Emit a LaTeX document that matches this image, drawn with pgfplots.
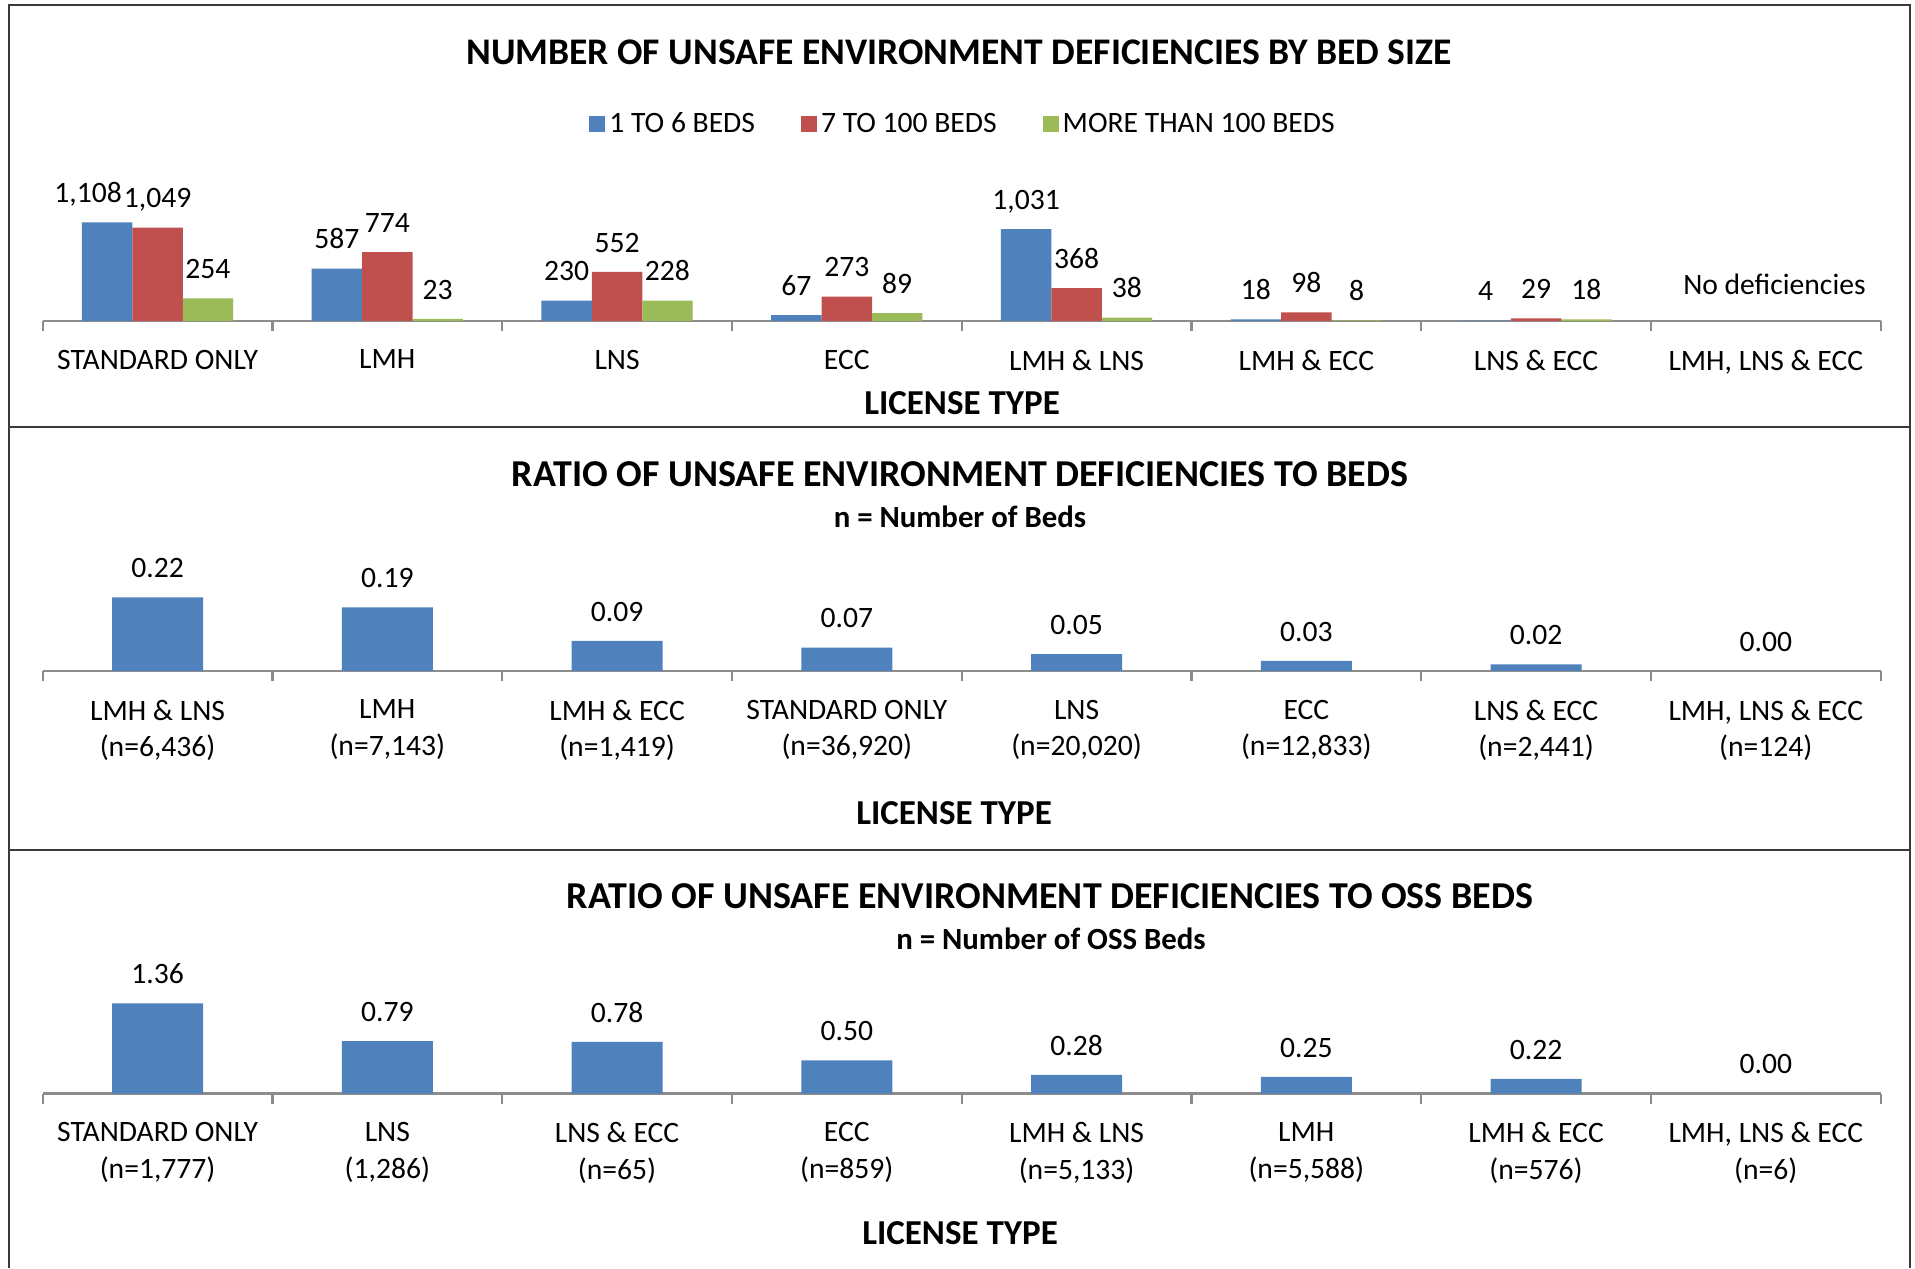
\documentclass[border=0pt]{standalone}
\usepackage{pgfplots}
\usepackage{pgfplotstable}
\pgfplotsset{compat=1.18}
\usepackage{fontspec}
\setmainfont{Carlito}

\definecolor{barblue}{HTML}{4F81BD}
\definecolor{barred}{HTML}{C0504D}
\definecolor{bargreen}{HTML}{9BBB59}
\definecolor{axisgray}{HTML}{8C8C8C}
\definecolor{framegray}{HTML}{3A3A3A}

\newcommand\lbl{\fontsize{14.8}{18.3}\selectfont}
\newcommand\ttl{\fontsize{19}{22}\selectfont\bfseries}
\newcommand\sub{\fontsize{15.4}{17}\selectfont\bfseries}
\newcommand\axt{\fontsize{17.5}{20}\selectfont\bfseries}

% deficiencies by bed size (dx = horizontal nudge of the value label, pt)
\pgfplotstableread{
x blue red green dx
0 1108 1049 254 -9.5
1 587  774  23  0
2 230  552  228 0
3 67   273  89  0
4 1031 368  38  0
5 18   98   8   0
6 4    29   18  0
}\bedtable

% ratio to beds
\pgfplotstableread{
x r
0 0.22
1 0.19
2 0.09
3 0.07
4 0.05
5 0.03
6 0.02
7 0.00
}\bedratio

% ratio to OSS beds
\pgfplotstableread{
x r
0 1.36
1 0.79
2 0.78
3 0.50
4 0.28
5 0.25
6 0.22
7 0.00
}\ossratio

\pgfplotsset{
  sqlegend/.style={legend image code/.code={\fill[##1] (0pt,-4pt) rectangle (8pt,4pt);}},
  panel/.style={
    scale only axis, width=919pt, clip=false,
    axis x line*=bottom, axis y line=none,
    xmin=-0.5, xmax=7.5, ymin=0,
    xtick={0,...,7}, major tick length=0pt,
    minor xtick={-0.5,0.5,...,7.5}, minor tick length=5pt, tick align=outside,
    tick style={draw=axisgray, line width=1.2pt},
    axis line style={draw=axisgray, line width=1.2pt},
    xticklabel style={anchor=north, inner sep=0pt, yshift=-14.3pt, align=center, font=\lbl},
    every node near coord/.append style={font=\lbl, anchor=base, inner sep=0pt, yshift=9.9pt},
    /pgf/number format/assume math mode=true,
  },
}

\begin{document}
\begin{tikzpicture}
\path[use as bounding box, fill=white] (0pt,0pt) rectangle (957.5pt,634pt);

% frame and panel separators
\draw[framegray, line width=1.2pt] (4.5pt,0pt) -- (4.5pt,631.5pt) -- (955pt,631.5pt) -- (955pt,0pt);
\draw[framegray, line width=1.2pt] (4.5pt,420.5pt) -- (955pt,420.5pt);
\draw[framegray, line width=1.2pt] (4.5pt,209pt) -- (955pt,209pt);

% ---------- panel 1 ----------
\node[font=\ttl] at (479.5pt,607.75pt) {\fontsize{18.8}{22}\selectfont NUMBER OF UNSAFE ENVIRONMENT DEFICIENCIES BY BED SIZE};
\node[font=\axt] at (481pt,432.5pt) {LICENSE TYPE};

\begin{axis}[panel, at={(21.35pt,473.5pt)}, anchor=south west,
  height=53.4pt, ymax=1200,
  ybar=0pt, bar width=25.2pt,
  every axis plot post/.append style={sqlegend},
  xticklabels={STANDARD ONLY, LMH, LNS, ECC, LMH \& LNS, LMH \& ECC, LNS \& ECC, {LMH, LNS \& ECC}},
  nodes near coords={\pgfmathprintnumber[fixed,precision=0,1000 sep={,}]{\pgfplotspointmeta}},
  legend columns=3,
  legend style={at={(0.5013,1.84)}, anchor=center, draw=none, fill=none, font=\lbl,
    /tikz/every even column/.append style={column sep=21pt}},
]
\addplot[fill=barblue, draw=none,
  visualization depends on={\thisrow{dx} \as \dx},
  every node near coord/.append style={xshift=\dx pt}] table[x=x, y=blue] {\bedtable};
\addplot[fill=barred, draw=none] table[x=x, y=red] {\bedtable};
\addplot[fill=bargreen, draw=none] table[x=x, y=green] {\bedtable};
\legend{1 TO 6 BEDS, 7 TO 100 BEDS, MORE THAN 100 BEDS}
\node[font=\lbl, xshift=4.3pt] at (axis cs:7,409) {No deficiencies};
\end{axis}

% ---------- panel 2 ----------
\node[font=\ttl] at (480pt,397pt) {RATIO OF UNSAFE ENVIRONMENT DEFICIENCIES TO BEDS};
\node[font=\sub] at (480pt,375.7pt) {n = Number of Beds};
\node[font=\axt] at (477pt,227.5pt) {LICENSE TYPE};

\begin{axis}[panel, at={(21.35pt,298.5pt)}, anchor=south west,
  height=41.875pt, ymax=0.25,
  ybar, bar width=45.5pt,
  xticklabels={{LMH \& LNS\\(n=6,436)}, {LMH\\(n=7,143)}, {LMH \& ECC\\(n=1,419)},
    {STANDARD ONLY\\(n=36,920)}, {LNS\\(n=20,020)}, {ECC\\(n=12,833)},
    {LNS \& ECC\\(n=2,441)}, {LMH, LNS \& ECC\\(n=124)}},
  nodes near coords={\pgfmathprintnumber[fixed,fixed zerofill,precision=2]{\pgfplotspointmeta}},
]
\addplot[fill=barblue, draw=none] table[x=x, y=r] {\bedratio};
\end{axis}

% ---------- panel 3 ----------
\node[font=\ttl] at (525pt,185.75pt) {RATIO OF UNSAFE ENVIRONMENT DEFICIENCIES TO OSS BEDS};
\node[font=\sub] at (525.5pt,164.5pt) {n = Number of OSS Beds};
\node[font=\axt] at (480pt,17.25pt) {LICENSE TYPE};

\begin{axis}[panel, at={(21.35pt,87.25pt)}, anchor=south west,
  height=49.65pt, ymax=1.5,
  ybar, bar width=45.5pt,
  xticklabels={{STANDARD ONLY\\(n=1,777)}, {LNS\\(1,286)}, {LNS \& ECC\\(n=65)},
    {ECC\\(n=859)}, {LMH \& LNS\\(n=5,133)}, {LMH\\(n=5,588)},
    {LMH \& ECC\\(n=576)}, {LMH, LNS \& ECC\\(n=6)}},
  nodes near coords={\pgfmathprintnumber[fixed,fixed zerofill,precision=2]{\pgfplotspointmeta}},
]
\addplot[fill=barblue, draw=none] table[x=x, y=r] {\ossratio};
\end{axis}
\end{tikzpicture}
\end{document}
